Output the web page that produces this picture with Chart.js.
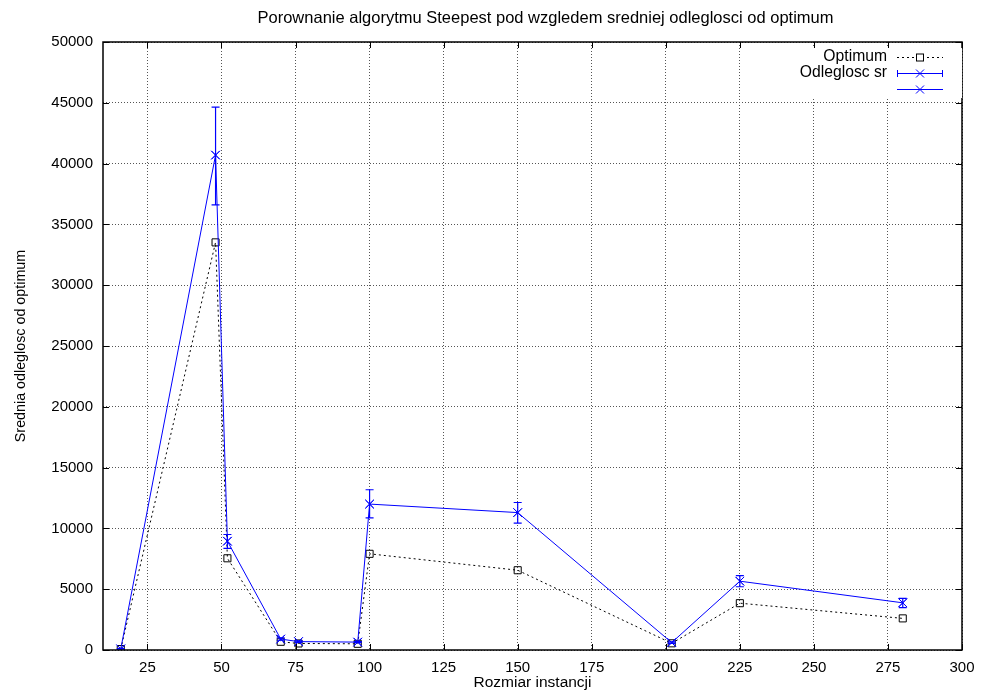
<!DOCTYPE html>
<html>
<head>
<meta charset="utf-8">
<title>Porownanie algorytmu Steepest</title>
<script src="https://cdn.jsdelivr.net/npm/chart.js@4.4.0/dist/chart.umd.min.js"></script>
<style>
    html, body { margin: 0; padding: 0; background: #fff; }
    #wrap { width: 981px; height: 692px; position: relative; }
</style>
</head>
<body>
<div id="wrap"><canvas id="chart"></canvas></div>
<script>
// Instance sizes (x) and values
const sizes    = [16, 48, 52, 70, 76, 96, 100, 150, 202, 225, 280];
const optimum  = [75, 33522, 7542, 675, 538, 510, 7910, 6560, 550, 3850, 2600];
const avgDist  = [90, 40700, 8950, 900, 690, 650, 12000, 11300, 610, 5660, 3880];
const errLow   = [60, 36600, 8350, 800, 620, 600, 10870, 10440, 550, 5200, 3480];
const errHigh  = [120, 44650, 9500, 1000, 760, 700, 13180, 12130, 670, 6120, 4240];

const xTicks = [25, 50, 75, 100, 125, 150, 175, 200, 225, 250, 275, 300];
const yTicks = [0, 5000, 10000, 15000, 20000, 25000, 30000, 35000, 40000, 45000, 50000];

const TITLE = 'Porownanie algorytmu Steepest pod wzgledem sredniej odleglosci od optimum';
const FONT = '"Liberation Sans", Arial, Helvetica, sans-serif';
const BLUE = '#0000ff';

function toPoints(values) {
    return sizes.map((x, i) => ({ x: x, y: values[i] }));
}

// vertical error bars for the "Odleglosc sr" dataset
const errorBarPlugin = {
    id: 'errorBars',
    afterDatasetsDraw(chart) {
        const ctx = chart.ctx;
        const xs = chart.scales.x, ys = chart.scales.y;
        ctx.save();
        ctx.strokeStyle = BLUE;
        ctx.lineWidth = 1.2;
        sizes.forEach((x, i) => {
            const px = xs.getPixelForValue(x);
            const yl = ys.getPixelForValue(errLow[i]);
            const yh = ys.getPixelForValue(errHigh[i]);
            ctx.beginPath();
            ctx.moveTo(px, yl); ctx.lineTo(px, yh);
            ctx.moveTo(px - 4, yl); ctx.lineTo(px + 4, yl);
            ctx.moveTo(px - 4, yh); ctx.lineTo(px + 4, yh);
            ctx.stroke();
        });
        ctx.restore();
    }
};

function drawCross(ctx, x, y, r) {
    ctx.beginPath();
    ctx.moveTo(x - r, y - r); ctx.lineTo(x + r, y + r);
    ctx.moveTo(x - r, y + r); ctx.lineTo(x + r, y - r);
    ctx.stroke();
}

// gnuplot style frame, inward ticks, title and key
const framePlugin = {
    id: 'frame',
    afterDraw(chart) {
        const ctx = chart.ctx;
        const a = chart.chartArea;
        const xs = chart.scales.x, ys = chart.scales.y;
        ctx.save();
        ctx.strokeStyle = '#000';
        ctx.lineWidth = 1;
        ctx.beginPath();
        xTicks.forEach(v => {
            const px = Math.round(xs.getPixelForValue(v)) + 0.5;
            ctx.moveTo(px, a.bottom); ctx.lineTo(px, a.bottom - 6);
            ctx.moveTo(px, a.top); ctx.lineTo(px, a.top + 6);
        });
        yTicks.forEach(v => {
            const py = Math.round(ys.getPixelForValue(v)) + 0.5;
            ctx.moveTo(a.left, py); ctx.lineTo(a.left + 6, py);
            ctx.moveTo(a.right, py); ctx.lineTo(a.right - 6, py);
        });
        ctx.stroke();
        ctx.lineWidth = 1.5;
        ctx.strokeRect(a.left, a.top, a.right - a.left, a.bottom - a.top);

        ctx.fillStyle = '#000';
        ctx.font = '16.5px ' + FONT;
        ctx.textAlign = 'center';
        ctx.textBaseline = 'middle';
        ctx.fillText(TITLE, (a.left + a.right) / 2 + 13, 18);

        // key
        const textX = a.right - 75;
        const s0 = a.right - 65, s1 = a.right - 19, sm = (s0 + s1) / 2;
        const rows = [a.top + 15, a.top + 31, a.top + 47];
        ctx.fillStyle = '#fff';
        ctx.fillRect(textX - 95, a.top + 6, 170, 50);
        ctx.fillStyle = '#000';
        ctx.font = '15.7px ' + FONT;
        ctx.textAlign = 'right';
        ctx.fillText(chart.data.datasets[0].label, textX, rows[0]);
        ctx.fillText(chart.data.datasets[1].label, textX, rows[1]);

        ctx.lineWidth = 1;
        ctx.strokeStyle = '#000';
        ctx.setLineDash([2, 3]);
        ctx.beginPath();
        ctx.moveTo(s0, rows[0] + 0.5); ctx.lineTo(s1, rows[0] + 0.5);
        ctx.stroke();
        ctx.setLineDash([]);
        ctx.fillStyle = '#fff';
        ctx.fillRect(sm - 3.5, rows[0] - 3, 7, 7);
        ctx.strokeRect(sm - 3.5, rows[0] - 3, 7, 7);

        ctx.strokeStyle = BLUE;
        ctx.beginPath();
        ctx.moveTo(s0, rows[1] + 0.5); ctx.lineTo(s1, rows[1] + 0.5);
        ctx.moveTo(s0 + 0.5, rows[1] - 3); ctx.lineTo(s0 + 0.5, rows[1] + 4);
        ctx.moveTo(s1 - 0.5, rows[1] - 3); ctx.lineTo(s1 - 0.5, rows[1] + 4);
        ctx.moveTo(s0, rows[2] + 0.5); ctx.lineTo(s1, rows[2] + 0.5);
        ctx.stroke();
        drawCross(ctx, sm, rows[1] + 0.5, 4);
        drawCross(ctx, sm, rows[2] + 0.5, 4);
        ctx.restore();
    }
};

function buildChart() {
    const ctx = document.getElementById('chart').getContext('2d');
    window.steepestChart = new Chart(ctx, {
        type: 'scatter',
        data: {
            datasets: [{
                label: 'Optimum',
                data: toPoints(optimum),
                showLine: true,
                borderColor: '#000',
                borderWidth: 1,
                borderDash: [2, 3],
                pointStyle: 'rect',
                pointRadius: 5,
                pointBorderColor: '#000',
                pointBackgroundColor: 'rgba(255,255,255,0)',
                pointBorderWidth: 1,
                order: 3
            }, {
                label: 'Odleglosc sr',
                data: toPoints(avgDist),
                showLine: false,
                pointStyle: 'crossRot',
                pointRadius: 6,
                pointBorderColor: BLUE,
                pointBorderWidth: 1,
                order: 2
            }, {
                label: '',
                data: toPoints(avgDist),
                showLine: true,
                borderColor: BLUE,
                borderWidth: 1,
                pointStyle: 'crossRot',
                pointRadius: 6,
                pointBorderColor: BLUE,
                pointBorderWidth: 1,
                order: 1
            }]
        },
        options: {
            responsive: true,
            maintainAspectRatio: false,
            animation: false,
            layout: { padding: { top: 42, right: 19, bottom: 0, left: 0 } },
            plugins: {
                legend: { display: false },
                tooltip: { enabled: false },
                title: { display: false }
            },
            scales: {
                x: {
                    type: 'linear',
                    min: 10,
                    max: 300,
                    afterBuildTicks: s => { s.ticks = xTicks.map(v => ({ value: v })); },
                    afterFit: s => { s.height = 42; s.paddingLeft = 0; s.paddingRight = 0; },
                    grid: { color: '#555', lineWidth: 1, drawTicks: false },
                    border: { display: false, dash: [1, 2] },
                    ticks: { color: '#000', padding: 9, maxRotation: 0, font: { family: FONT, size: 15 } },
                    title: {
                        display: true,
                        text: 'Rozmiar instancji',
                        color: '#000',
                        padding: { top: 0, bottom: 0 },
                        font: { family: FONT, size: 15.5 }
                    }
                },
                y: {
                    min: 0,
                    max: 50000,
                    afterBuildTicks: s => { s.ticks = yTicks.map(v => ({ value: v })); },
                    afterFit: s => { s.width = 103; },
                    grid: { color: '#555', lineWidth: 1, drawTicks: false },
                    border: { display: false, dash: [1, 2] },
                    ticks: {
                        color: '#000',
                        padding: 10,
                        font: { family: FONT, size: 15 },
                        callback: v => String(v)
                    },
                    title: {
                        display: true,
                        text: 'Srednia odleglosc od optimum',
                        color: '#000',
                        padding: { top: 12, bottom: 0 },
                        font: { family: FONT, size: 14.3 }
                    }
                }
            }
        },
        plugins: [errorBarPlugin, framePlugin]
    });
}

buildChart();
</script>
</body>
</html>
